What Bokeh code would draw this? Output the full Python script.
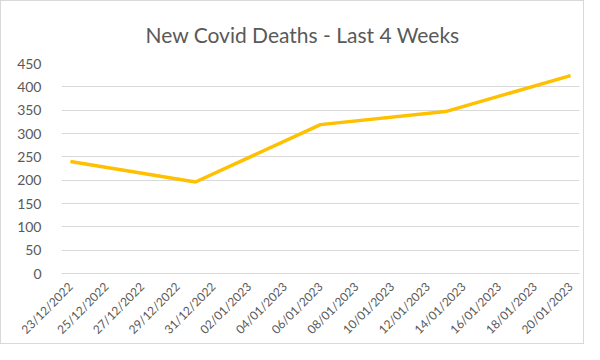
import math
from datetime import datetime, timedelta
from bokeh.plotting import figure
from bokeh.models import Range1d, FixedTicker, DatetimeTickFormatter, ColumnDataSource
from bokeh.embed import file_html
from bokeh.resources import INLINE

title_text = "New Covid Deaths - Last 4 Weeks"
dates = ["2022-12-23", "2022-12-30", "2023-01-06", "2023-01-13", "2023-01-20"]
deaths = [240, 196, 319, 347, 424]
tick_dates = ["2022-12-23", "2022-12-25", "2022-12-27", "2022-12-29", "2022-12-31",
              "2023-01-02", "2023-01-04", "2023-01-06", "2023-01-08", "2023-01-10",
              "2023-01-12", "2023-01-14", "2023-01-16", "2023-01-18", "2023-01-20"]
y_ticks = [0, 50, 100, 150, 200, 250, 300, 350, 400, 450]

def ms(d):
    return (datetime.strptime(d, "%Y-%m-%d") - datetime(1970, 1, 1)).total_seconds() * 1000

xs = [datetime.strptime(d, "%Y-%m-%d") for d in dates]
src = ColumnDataSource(dict(x=xs, y=deaths))

start = datetime.strptime(dates[0], "%Y-%m-%d") - timedelta(hours=12)
end = datetime.strptime(dates[-1], "%Y-%m-%d") + timedelta(hours=12)

FONT = "Lato"
GREY = "#595959"

p = figure(width=584, height=344, x_axis_type="datetime", output_backend="svg",
           toolbar_location=None, x_range=Range1d(start, end), y_range=Range1d(0, 450),
           min_border_left=60, min_border_right=6, min_border_top=62, min_border_bottom=66)

p.title.text = title_text
p.title.align = "left"
p.title.offset = 84
p.title.text_font = FONT
p.title.text_font_size = "21px"
p.title.text_font_style = "normal"
p.title.text_color = GREY
p.title.text_line_height = 1.0
p.title.standoff = 33

p.line("x", "y", source=src, line_color="#FFC000", line_width=3.5)

p.outline_line_color = None
p.xgrid.grid_line_color = None
p.ygrid.grid_line_color = "#d9d9d9"
p.ygrid.grid_line_width = 1

p.yaxis.ticker = FixedTicker(ticks=y_ticks)
p.yaxis.axis_line_color = None
p.yaxis.major_tick_line_color = None
p.yaxis.minor_tick_line_color = None
p.yaxis.major_label_text_font = FONT
p.yaxis.major_label_text_font_size = "14px"
p.yaxis.major_label_text_color = GREY
p.yaxis.major_label_standoff = 14

p.xaxis.ticker = FixedTicker(ticks=[ms(d) for d in tick_dates])
p.xaxis.formatter = DatetimeTickFormatter(days="%d/%m/%Y", months="%d/%m/%Y", years="%d/%m/%Y",
                                          hours="%d/%m/%Y", milliseconds="%d/%m/%Y",
                                          seconds="%d/%m/%Y", minsec="%d/%m/%Y",
                                          minutes="%d/%m/%Y", hourmin="%d/%m/%Y")
p.xaxis.axis_line_color = "#d9d9d9"
p.xaxis.major_tick_line_color = None
p.xaxis.minor_tick_line_color = None
p.xaxis.major_label_orientation = math.pi / 4
p.xaxis.major_label_text_font = FONT
p.xaxis.major_label_text_font_size = "12px"
p.xaxis.major_label_text_color = GREY
p.xaxis.major_label_standoff = 5

p.styles = {"border": "1px solid #d9d9d9"}

open("out.html", "w").write(file_html(p, INLINE))
